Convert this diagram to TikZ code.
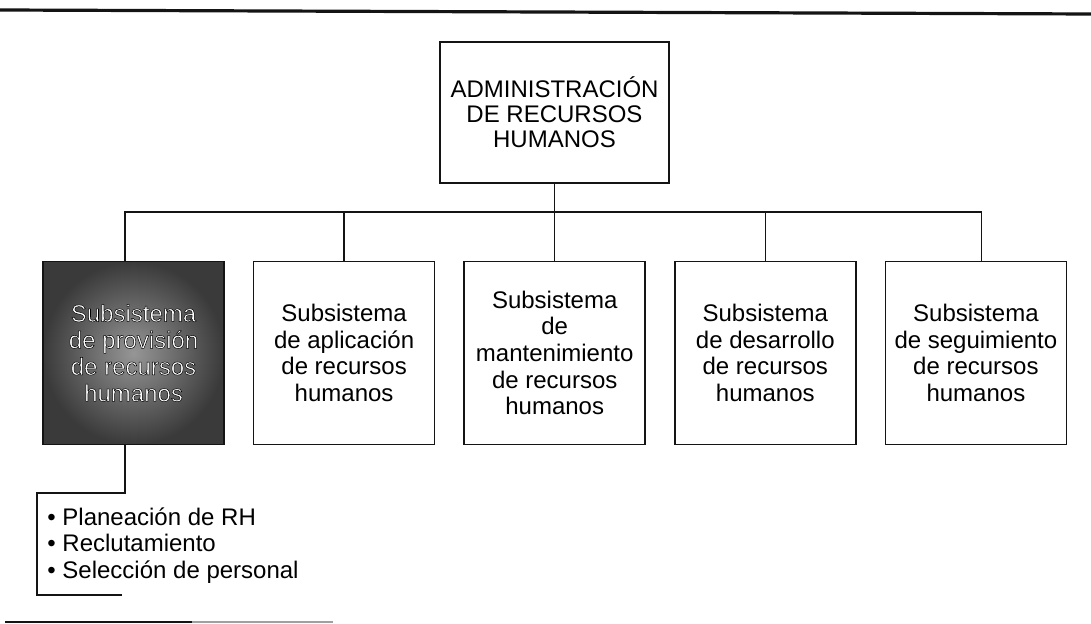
\documentclass[tikz,border=0pt]{standalone}
\usepackage{fontspec}
\setmainfont{Liberation Sans}
\usetikzlibrary{positioning}
\definecolor{rhink}{HTML}{141414}
\definecolor{rhlight}{HTML}{969696}
\definecolor{rhdark}{HTML}{3A3A3A}
\definecolor{rhrule}{HTML}{A0A0A0}
\newcommand{\rhoutline}[1]{\special{pdf:literal direct 2 Tr 0.25 w 0 G}#1\special{pdf:literal direct 0 Tr}}
\tikzset{
  headBox/.style={draw=rhink, line width=0.8pt, minimum width=114.5pt, minimum height=70.5pt, align=center, inner sep=2pt, font=\fontsize{12}{12.6}\selectfont},
  subBox/.style={draw=rhink, line width=0.8pt, minimum width=90.5pt, minimum height=91.5pt, align=center, inner sep=2pt, font=\fontsize{12}{13.3}\selectfont},
  provBox/.style={subBox, shading=radial, inner color=rhlight, outer color=rhdark, text=white},
  listText/.style={align=left, inner sep=0pt, anchor=north west, font=\fontsize{12}{13.25}\selectfont},
  orgLine/.style={draw=rhink, line width=0.8pt},
  ruleLine/.style={draw=rhink, line width=1.6pt}
}

\begin{document}
\begin{tikzpicture}[x=0.5pt, y=-0.5pt]
  \useasboundingbox (0,0) rectangle (1091,624);

  \draw[ruleLine] (0,10) -- (1091,14);

  \node[headBox] (top) at (554.5,112.5) {ADMINISTRACIÓN\\ DE RECURSOS\\ HUMANOS};

  \node[provBox] (prov) at (133.5,353) {\rhoutline{Subsistema}\\ \rhoutline{de provisión}\\ \rhoutline{de recursos}\\ \rhoutline{humanos}};
  \node[subBox, right=14pt of prov] (apl) {Subsistema\\ de aplicación\\ de recursos\\ humanos};
  \node[subBox, right=14pt of apl] (mant) {Subsistema\\ de\\ mantenimiento\\ de recursos\\ humanos};
  \node[subBox, right=14pt of mant] (des) {Subsistema\\ de desarrollo\\ de recursos\\ humanos};
  \node[subBox, right=14pt of des] (seg) {Subsistema\\ de seguimiento\\ de recursos\\ humanos};

  \coordinate[below=14pt of top.south] (bus);
  \draw[orgLine] (top.south) -- (bus);
  \draw[orgLine] ([xshift=-4.25pt]prov.north) |- (bus) -| ([xshift=2.75pt]seg.north);
  \draw[orgLine] (top.south |- mant.north) -- (bus);
  \foreach \sub in {apl,des}
    \draw[orgLine] (\sub.north) -- (\sub.north |- bus);

  % actividades del subsistema de provision
  \coordinate (brTop) at (37,493);
  \coordinate (brBot) at (37,595);
  \node[listText] (lista) at (47,507) {• Planeación de RH\\ • Reclutamiento\\ • Selección de personal};
  \draw[orgLine] ([xshift=-4.25pt]prov.south) |- (brTop) -- (brBot) -- ++(85,0);

  \draw[draw=rhink, line width=1pt] (5,622) -- (192,622);
  \draw[draw=rhrule, line width=0.6pt] (192,622) -- (333,622);
\end{tikzpicture}
\end{document}
